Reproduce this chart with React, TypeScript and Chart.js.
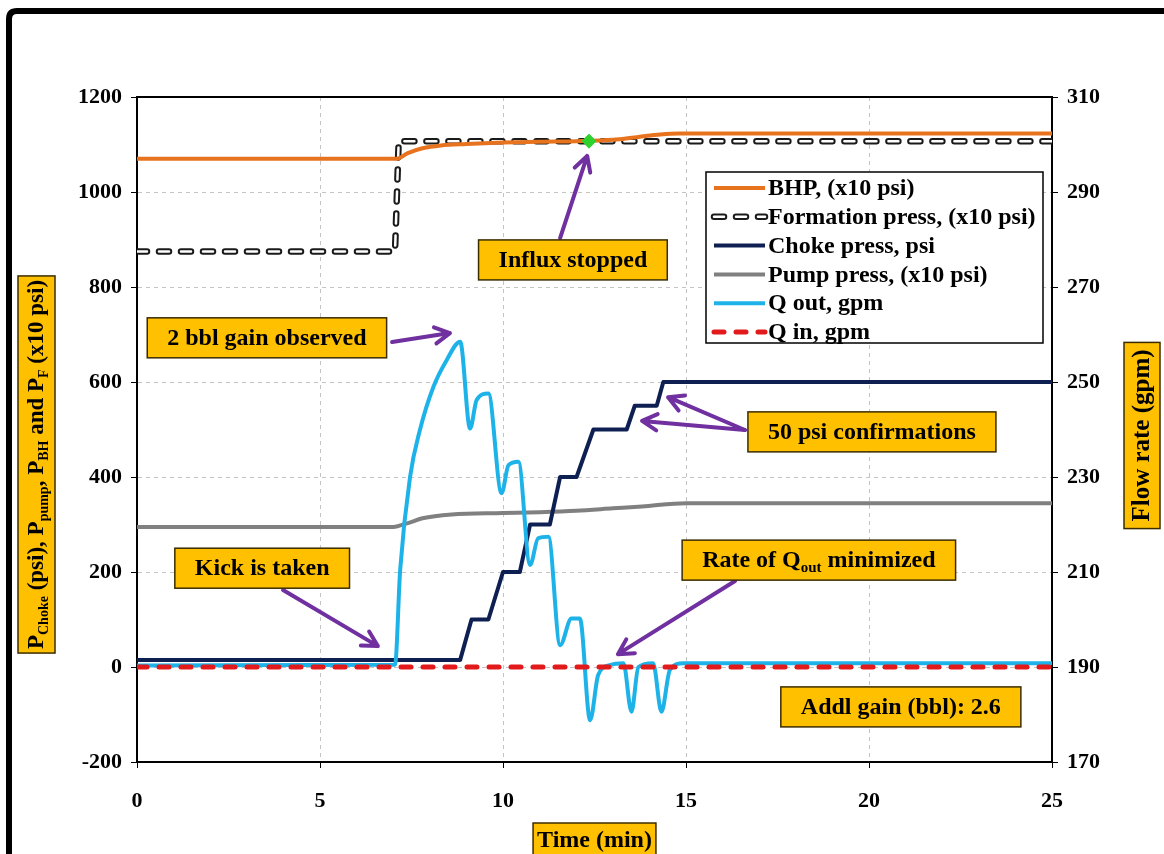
import React, { useEffect, useRef } from "react";
import { Chart, registerables } from "chart.js";

Chart.register(...registerables);

const SERIF = '"Liberation Serif", "Times New Roman", Times, serif';

// ---- axis ticks ----
const timeTicks = [0, 5, 10, 15, 20, 25];
const pressureTicks = [-200, 0, 200, 400, 600, 800, 1000, 1200];
const flowTicks = [170, 190, 210, 230, 250, 270, 290, 310];

// ---- series (time in min) ----
const bhpTime = [0, 7.1, 7.4, 7.8, 8.3, 9, 10, 11, 12, 13, 13.7, 14.3, 14.8, 25];
const bhpPress = [1070, 1070, 1082, 1092, 1098, 1101, 1104, 1106, 1107, 1110, 1116, 1121, 1123, 1123];

const formTime = [0, 7.05, 7.15, 25];
const formPress = [875, 875, 1107, 1107];

const chokeTime = [0, 8.83, 9.14, 9.6, 10.0, 10.46, 10.74, 11.28, 11.56, 12.01, 12.47, 13.38, 13.6, 14.2, 14.38, 25];
const chokePress = [15, 15, 100, 100, 200, 200, 300, 300, 400, 400, 500, 500, 550, 550, 600, 600];

const pumpTime = [0, 7.0, 7.4, 7.8, 8.6, 10, 11, 12, 13, 13.8, 15, 25];
const pumpPress = [295, 295, 303, 313, 321, 324, 326, 329, 334, 338, 345, 345];

const qoutTime = [0, 7.05, 7.19, 7.46, 7.73, 8.1, 8.46, 8.83, 9.1, 9.28, 9.6, 9.96, 10.15, 10.42, 10.74, 10.96, 11.24, 11.56, 11.87, 12.1, 12.38, 12.6, 12.92, 13.29, 13.51, 13.7, 14.1, 14.33, 14.56, 14.93, 25];
const qoutFlow = [190.3, 190.5, 210.4, 230.0, 239.9, 249.0, 254.6, 258.5, 240.2, 246.2, 247.6, 226.6, 232.5, 233.2, 211.5, 217.1, 217.4, 194.6, 200.2, 200.2, 178.8, 188.3, 190.4, 190.8, 180.6, 190.0, 190.8, 180.6, 189.4, 190.8, 190.8];

const qinTime = [0, 25];
const qinFlow = [190, 190];

const markerTime = [12.35];
const markerPress = [1107];

// ---- legend ----
const legendLabels = ["BHP, (x10 psi)", "Formation press, (x10 psi)", "Choke press, psi", "Pump press, (x10 psi)", "Q out, gpm", "Q in, gpm"];

// ---- annotations (anchored in data coordinates: time, left-axis pressure) ----
const noteTexts = ["Influx stopped", "2 bbl gain observed", "50 psi confirmations", "Kick is taken", "Rate of Q_{out} minimized", "Addl gain (bbl): 2.6"];
const noteTime = [11.91, 3.55, 20.08, 3.42, 18.63, 20.87];
const notePress = [857, 693, 495, 208, 225, -84];

const arrowFromTime = [11.56, 6.97, 16.61, 16.61, 3.99, 16.34];
const arrowFromPress = [903, 684, 499, 499, 162, 181];
const arrowToTime = [12.3, 8.55, 14.51, 13.8, 6.58, 13.14];
const arrowToPress = [1076, 703, 568, 518, 44, 27];

const leftTitle = "P_{Choke} (psi), P_{pump}, P_{BH} and P_{F} (x10 psi)";
const rightTitle = "Flow rate (gpm)";
const bottomTitle = "Time (min)";

const pts = (xs: number[], ys: number[]) => xs.map((x, i) => ({ x, y: ys[i] }));

type Seg = { t: string; sub: boolean };
function parseRich(s: string): Seg[] {
  const out: Seg[] = [];
  const re = /_\{([^}]*)\}/g;
  let last = 0;
  let m: RegExpExecArray | null;
  while ((m = re.exec(s))) {
    if (m.index > last) out.push({ t: s.slice(last, m.index), sub: false });
    out.push({ t: m[1], sub: true });
    last = m.index + m[0].length;
  }
  if (last < s.length) out.push({ t: s.slice(last), sub: false });
  return out;
}

function richWidth(ctx: CanvasRenderingContext2D, segs: Seg[], size: number) {
  let w = 0;
  for (const s of segs) {
    ctx.font = `bold ${s.sub ? Math.round(size * 0.62) : size}px ${SERIF}`;
    w += ctx.measureText(s.t).width;
  }
  return w;
}

// draws centered at (0,0) in current transform; baseline middle
function drawRich(ctx: CanvasRenderingContext2D, segs: Seg[], size: number) {
  const w = richWidth(ctx, segs, size);
  let x = -w / 2;
  ctx.textBaseline = "middle";
  ctx.textAlign = "left";
  ctx.fillStyle = "#000";
  for (const s of segs) {
    ctx.font = `bold ${s.sub ? Math.round(size * 0.62) : size}px ${SERIF}`;
    ctx.fillText(s.t, x, s.sub ? size * 0.28 : 0);
    x += ctx.measureText(s.t).width;
  }
}

function orangeBox(ctx: CanvasRenderingContext2D, x: number, y: number, w: number, h: number) {
  ctx.save();
  ctx.fillStyle = "#FFC000";
  ctx.fillRect(x, y, w, h);
  ctx.strokeStyle = "#3b2c00";
  ctx.lineWidth = 1.5;
  ctx.strokeRect(x, y, w, h);
  ctx.restore();
}

function arrow(ctx: CanvasRenderingContext2D, x1: number, y1: number, x2: number, y2: number) {
  const a = Math.atan2(y2 - y1, x2 - x1);
  const L = 17;
  const sp = 0.5;
  ctx.save();
  ctx.strokeStyle = "#7030A0";
  ctx.lineWidth = 4;
  ctx.lineCap = "round";
  ctx.lineJoin = "round";
  ctx.beginPath();
  ctx.moveTo(x1, y1);
  ctx.lineTo(x2, y2);
  ctx.moveTo(x2 - L * Math.cos(a - sp), y2 - L * Math.sin(a - sp));
  ctx.lineTo(x2, y2);
  ctx.lineTo(x2 - L * Math.cos(a + sp), y2 - L * Math.sin(a + sp));
  ctx.stroke();
  ctx.restore();
}

const overlayPlugin = {
  id: "overlay",
  beforeDraw(chart: any) {
    const { ctx, width, height } = chart;
    ctx.save();
    ctx.fillStyle = "#fff";
    ctx.fillRect(0, 0, width, height);
    ctx.strokeStyle = "#000";
    ctx.lineWidth = 6;
    ctx.beginPath();
    const x0 = 9, y0 = 11, r = 8;
    ctx.moveTo(x0, height + 20);
    ctx.lineTo(x0, y0 + r);
    ctx.quadraticCurveTo(x0, y0, x0 + r, y0);
    ctx.lineTo(width + 20, y0);
    ctx.stroke();
    ctx.restore();
  },
  afterDatasetsDraw(chart: any) {
    const { ctx, chartArea: ca } = chart;
    const xs = chart.scales.x;
    const ys = chart.scales.y;
    ctx.save();
    // top border of plot area
    ctx.strokeStyle = "#000";
    ctx.lineWidth = 2;
    ctx.beginPath();
    ctx.moveTo(ca.left, ca.top);
    ctx.lineTo(ca.right, ca.top);
    ctx.stroke();

    // legend
    const lw = 337, lh = 171;
    const lx = ca.right - 9 - lw;
    const ly = ca.top + 75;
    ctx.fillStyle = "#fff";
    ctx.fillRect(lx, ly, lw, lh);
    ctx.strokeStyle = "#000";
    ctx.lineWidth = 1.5;
    ctx.strokeRect(lx, ly, lw, lh);
    const dsForLegend = [5, 7, 3, 4, 2, 1];
    const rowH = 28.8;
    for (let i = 0; i < legendLabels.length; i++) {
      const cy = ly + 16 + i * rowH;
      const idx = dsForLegend[i];
      const styles = idx === 7 ? [chart.data.datasets[7], chart.data.datasets[6]] : [chart.data.datasets[idx]];
      for (const ds of styles) {
        ctx.save();
        ctx.strokeStyle = ds.borderColor;
        ctx.lineWidth = ds.borderWidth;
        ctx.setLineDash(ds.borderDash || []);
        ctx.lineCap = ds.borderCapStyle || "butt";
        ctx.beginPath();
        ctx.moveTo(lx + 8, cy);
        ctx.lineTo(lx + 59, cy);
        ctx.stroke();
        ctx.restore();
      }
      ctx.fillStyle = "#000";
      ctx.font = `bold 24px ${SERIF}`;
      ctx.textAlign = "left";
      ctx.textBaseline = "middle";
      ctx.fillText(legendLabels[i], lx + 62, cy + 1);
    }

    // arrows
    for (let i = 0; i < arrowFromTime.length; i++) {
      arrow(
        ctx,
        xs.getPixelForValue(arrowFromTime[i]),
        ys.getPixelForValue(arrowFromPress[i]),
        xs.getPixelForValue(arrowToTime[i]),
        ys.getPixelForValue(arrowToPress[i])
      );
    }

    // annotation boxes
    for (let i = 0; i < noteTexts.length; i++) {
      const segs = parseRich(noteTexts[i]);
      const w = richWidth(ctx, segs, 24) + 40;
      const h = 40;
      const cx = xs.getPixelForValue(noteTime[i]);
      const cy = ys.getPixelForValue(notePress[i]);
      orangeBox(ctx, cx - w / 2, cy - h / 2, w, h);
      ctx.save();
      ctx.translate(cx, cy + 1);
      drawRich(ctx, segs, 24);
      ctx.restore();
    }

    // axis titles
    {
      const segs = parseRich(leftTitle);
      const w = richWidth(ctx, segs, 23) + 8;
      const cx = ca.left - 100.5;
      const cy = (ca.top + ca.bottom) / 2 + 35;
      ctx.save();
      ctx.translate(cx, cy);
      ctx.rotate(-Math.PI / 2);
      orangeBox(ctx, -w / 2, -18.5, w, 37);
      ctx.translate(0, 1);
      drawRich(ctx, segs, 23);
      ctx.restore();
    }
    {
      const segs = parseRich(rightTitle);
      const w = richWidth(ctx, segs, 25) + 14;
      const cx = ca.right + 90;
      const cy = (ca.top + ca.bottom) / 2 + 6;
      ctx.save();
      ctx.translate(cx, cy);
      ctx.rotate(-Math.PI / 2);
      orangeBox(ctx, -w / 2, -18, w, 36);
      ctx.translate(0, 1);
      drawRich(ctx, segs, 25);
      ctx.restore();
    }
    {
      const segs = parseRich(bottomTitle);
      const w = richWidth(ctx, segs, 24) + 8;
      const cx = (ca.left + ca.right) / 2;
      const top = ca.bottom + 61;
      orangeBox(ctx, cx - w / 2, top, w, 42);
      ctx.save();
      ctx.translate(cx, top + 18);
      drawRich(ctx, segs, 24);
      ctx.restore();
    }
    ctx.restore();
  },
};

export default function App() {
  const ref = useRef<HTMLCanvasElement | null>(null);
  useEffect(() => {
    if (!ref.current) return;
    const formDash = [10, 12];
    const plain = (v: any) => String(v);
    const line = (extra: any) => ({
      pointRadius: 0,
      pointHoverRadius: 0,
      fill: false,
      tension: 0,
      borderJoinStyle: "round",
      ...extra,
    });
    const chart = new Chart(ref.current, {
      type: "line",
      data: {
        datasets: [
          {
            label: "Influx stopped",
            data: pts(markerTime, markerPress),
            yAxisID: "y",
            showLine: false,
            pointStyle: "rectRot",
            pointRadius: 7,
            pointBackgroundColor: "#2FD12F",
            pointBorderColor: "#2FD12F",
          } as any,
          line({ label: legendLabels[5], data: pts(qinTime, qinFlow), yAxisID: "y1", borderColor: "#E31A1C", borderWidth: 5, borderDash: formDash, borderCapStyle: "round" }),
          line({ label: legendLabels[4], data: pts(qoutTime, qoutFlow), yAxisID: "y1", borderColor: "#1DB3E8", borderWidth: 4, cubicInterpolationMode: "monotone" }),
          line({ label: legendLabels[2], data: pts(chokeTime, chokePress), yAxisID: "y", borderColor: "#0E1F52", borderWidth: 4 }),
          line({ label: legendLabels[3], data: pts(pumpTime, pumpPress), yAxisID: "y", borderColor: "#808080", borderWidth: 4, cubicInterpolationMode: "monotone" }),
          line({ label: legendLabels[0], data: pts(bhpTime, bhpPress), yAxisID: "y", borderColor: "#E8731E", borderWidth: 4, cubicInterpolationMode: "monotone" }),
          line({ label: "formation-inner", data: pts(formTime, formPress), yAxisID: "y", borderColor: "#ffffff", borderWidth: 2.5, borderDash: formDash, borderCapStyle: "round" }),
          line({ label: legendLabels[1], data: pts(formTime, formPress), yAxisID: "y", borderColor: "#1a1a1a", borderWidth: 6.5, borderDash: formDash, borderCapStyle: "round" }),
        ],
      },
      options: {
        responsive: false,
        animation: false,
        devicePixelRatio: 1,
        layout: { padding: { top: 97, left: 0, right: 0, bottom: 0 } },
        plugins: {
          legend: { display: false },
          tooltip: { enabled: false },
          title: { display: false },
        },
        events: [],
        scales: {
          x: {
            type: "linear",
            position: "bottom",
            min: 0,
            max: 25,
            afterBuildTicks: (s: any) => {
              s.ticks = timeTicks.map((v) => ({ value: v }));
            },
            afterFit: (s: any) => {
              s.height = 92;
            },
            ticks: {
              padding: 20,
              color: "#000",
              font: { family: SERIF, size: 22, weight: "bold" },
              maxRotation: 0,
              callback: plain,
            },
            grid: {
              color: "#c4c4c4",
              lineWidth: 1,
              tickLength: 6,
              tickColor: "#000",
              tickWidth: 1,
            },
            border: { display: true, color: "#000", width: 2, dash: [4, 4] },
          },
          y: {
            type: "linear",
            position: "left",
            min: -200,
            max: 1200,
            afterBuildTicks: (s: any) => {
              s.ticks = pressureTicks.map((v) => ({ value: v }));
            },
            afterFit: (s: any) => {
              s.width = 137;
            },
            ticks: {
              padding: 9,
              color: "#000",
              font: { family: SERIF, size: 22, weight: "bold" },
              callback: plain,
            },
            grid: {
              color: "#c4c4c4",
              lineWidth: 1,
              tickLength: 6,
              tickColor: "#000",
              tickWidth: 1,
            },
            border: { display: true, color: "#000", width: 2, dash: [4, 4] },
          },
          y1: {
            type: "linear",
            position: "right",
            min: 170,
            max: 310,
            afterBuildTicks: (s: any) => {
              s.ticks = flowTicks.map((v) => ({ value: v }));
            },
            afterFit: (s: any) => {
              s.width = 112;
            },
            ticks: {
              padding: 9,
              color: "#000",
              font: { family: SERIF, size: 22, weight: "bold" },
              callback: plain,
            },
            grid: {
              drawOnChartArea: false,
              tickLength: 6,
              tickColor: "#000",
              tickWidth: 1,
              color: "#000",
            },
            border: { display: true, color: "#000", width: 2 },
          },
        },
      } as any,
      plugins: [overlayPlugin],
    });
    return () => chart.destroy();
  }, []);

  return (
    <div style={{ position: "fixed", left: 0, top: 0, width: 1164, height: 854, overflow: "hidden", background: "#fff" }}>
      <canvas ref={ref} width={1164} height={854} style={{ display: "block", width: 1164, height: 854 }} />
    </div>
  );
}
